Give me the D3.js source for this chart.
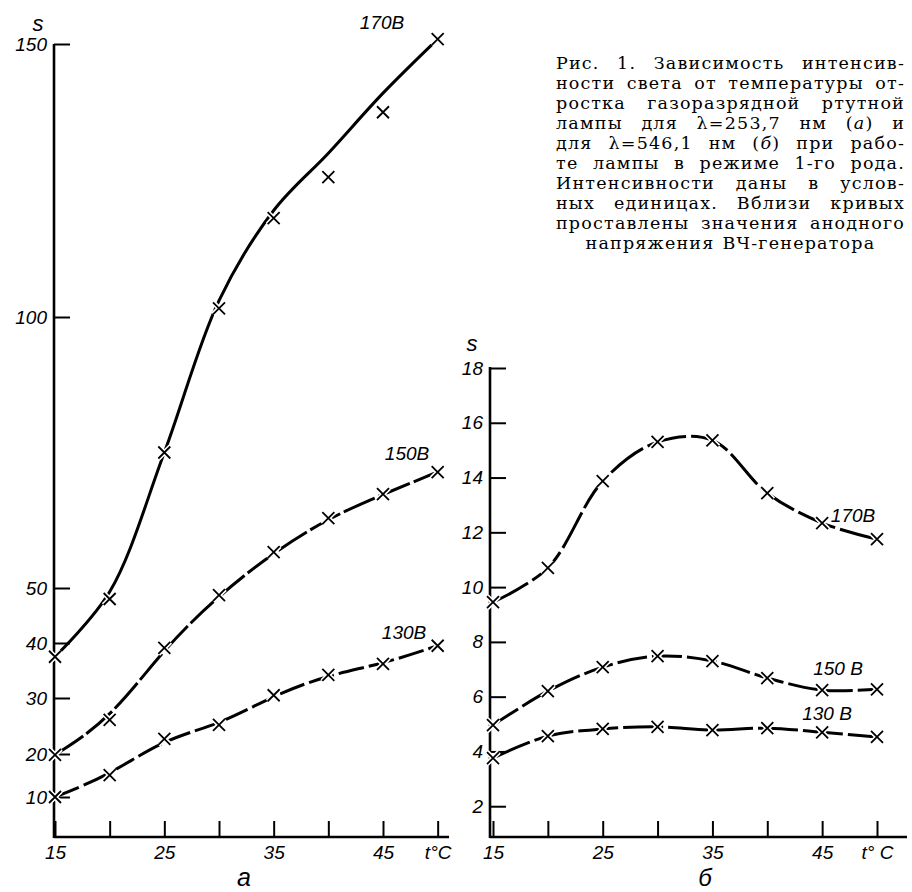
<!DOCTYPE html>
<html><head><meta charset="utf-8">
<script src="https://cdn.jsdelivr.net/npm/d3@7"></script>
<style>body{margin:0;background:#fff} svg{display:block}</style>
</head><body>
<svg id="c" width="912" height="892"></svg>
<script>
// ---- data ----
const temps = [15,20,25,30,35,40,45,50];
const xTickLabels = ["15","","25","","35","","45","t°C"];
const xTickLabelsB = ["15","","25","","35","","45","t° C"];
const aYTicks = [10,20,30,40,50,100,150];
const bYTicks = [2,4,6,8,10,12,14,16,18];
// measured points (crosses)
const a170 = [37.5,48,75,101.6,118.1,125.6,137.5,150.9];
const a150 = [19.8,26.1,39.1,48.7,56.6,62.9,67.3,71.4];
const a130 = [10,15.1,22.7,25.2,30.5,34.2,36.2,39.5];
const b170 = [9.45,10.7,13.87,15.3,15.36,13.43,12.34,11.75];
const b150 = [4.96,6.2,7.08,7.48,7.3,6.68,6.24,6.27];
const b130 = [3.76,4.56,4.82,4.9,4.78,4.85,4.7,4.53];
// drawn (fitted) curve for 170 В in panel a, read at the same temperatures
const a170Curve = [37.5,49.3,75,103,119.5,130,141,150.9];
const aLabels = ["170В","150В","130В"];
const bLabels = ["170В","150 В","130 В"];
const captionLines = [
  "Рис. 1. Зависимость интенсив-",
  "ности света от температуры от-",
  "ростка газоразрядной ртутной",
  "лампы для λ=253,7 нм (а) и",
  "для λ=546,1 нм (б) при рабо-",
  "те лампы в режиме 1-го рода.",
  "Интенсивности даны в услов-",
  "ных единицах. Вблизи кривых",
  "проставлены значения анодного",
  "напряжения ВЧ-генератора"
];

// ---- drawing ----
const svg = d3.select("#c");
const FONT = "Liberation Sans, Arial, sans-serif";

function styleAxis(g){
  g.select(".domain").remove();
  g.selectAll(".tick line").attr("stroke","#000").attr("stroke-width",2);
  g.selectAll(".tick text").attr("font-family",FONT).attr("font-style","italic")
    .attr("font-size",19).attr("fill","#000");
}

function panel(cfg){
  const {x,y,x0,x1,yTop,base,yTicks,points,curves,dashes,xLabels,curveTypes} = cfg;
  const g = svg.append("g");
  const gx = g.append("g").attr("transform",`translate(0,${base})`)
    .call(d3.axisBottom(x).tickValues(temps).tickFormat((d,i)=>xLabels[i])
      .tickSizeInner(-16).tickSizeOuter(0).tickPadding(9));
  styleAxis(gx);
  const gy = g.append("g").attr("transform",`translate(${x0},0)`)
    .call(d3.axisLeft(y).tickValues(yTicks).tickFormat(d3.format("d"))
      .tickSizeInner(-16).tickSizeOuter(0).tickPadding(7));
  styleAxis(gy);
  g.append("line").attr("x1",x0).attr("x2",x1).attr("y1",base).attr("y2",base)
    .attr("stroke","#000").attr("stroke-width",2.6);
  g.append("line").attr("x1",x0).attr("x2",x0).attr("y1",base+1).attr("y2",yTop)
    .attr("stroke","#000").attr("stroke-width",2.6);
  curves.forEach((s,k)=>{
    const line = d3.line().x((d,i)=>x(temps[i])).y(d=>y(d)).curve(curveTypes[k]);
    g.append("path").attr("d",line(s)).attr("fill","none").attr("stroke","#000")
      .attr("stroke-width",3).attr("stroke-dasharray",dashes[k]);
  });
  const cross = "M-6,-6L6,6M-6,6L6,-6";
  points.forEach(s=>{
    s.forEach((v,i)=>{
      const t = `translate(${x(temps[i])},${y(v)})`;
      g.append("path").attr("d",cross).attr("transform",t).attr("stroke","#fff").attr("stroke-width",5);
      g.append("path").attr("d",cross).attr("transform",t).attr("stroke","#000").attr("stroke-width",1.8);
    });
  });
  return g;
}

const cr = d3.curveCatmullRom.alpha(0.5);
// panel a
const xA = d3.scaleLinear().domain([15,45]).range([55,383]);
const yA = d3.scaleLinear().domain([0,10,20,30,40,50,100,150]).range([837,797,754,698,643,588,317,44]);
panel({x:xA,y:yA,x0:54,x1:449,yTop:44,base:837,yTicks:aYTicks,
  points:[a170,a150,a130],curves:[a170Curve,a150,a130],
  curveTypes:[cr,d3.curveBasis,d3.curveBasis],
  dashes:["none","34,4","26,5"],xLabels:xTickLabels});

// panel b
const xB = d3.scaleLinear().domain([15,50]).range([493,877]);
const yB = d3.scaleLinear().domain([0,18]).range([861,368]);
panel({x:xB,y:yB,x0:490,x1:907,yTop:367,base:837,yTicks:bYTicks,
  points:[b170,b150,b130],curves:[b170,b150,b130],curveTypes:[cr,cr,cr],
  dashes:["40,5","30,5","40,5"],xLabels:xTickLabelsB});

// text labels
function lab(txt,x,y,size,anchor){
  svg.append("text").attr("x",x).attr("y",y).attr("text-anchor",anchor||"middle")
    .attr("font-family",FONT).attr("font-style","italic").attr("font-size",size).attr("fill","#000").text(txt);
}
lab(aLabels[0],382,29,19); lab(aLabels[1],407,460,19); lab(aLabels[2],404,639,19);
lab(bLabels[0],853,522,19); lab(bLabels[1],838,675,19); lab(bLabels[2],827,720,19);
lab("s",38,31,22); lab("s",472,351,22);
lab("а",244,886,25); lab("б",705,886,24);

// caption, justified
const capG = svg.append("g").attr("font-family","DejaVu Serif, Liberation Serif, serif")
  .attr("font-size",17.5).attr("letter-spacing",1.2).attr("fill","#000");
const L = 556, R = 905;
captionLines.forEach((ln,i)=>{
  const yy = 69 + i*20;
  const words = ln.split(" ");
  const t = capG.append("text").attr("y",yy);
  const spans = words.map(w=>{
    const sp = t.append("tspan");
    const m = w.match(/^\((.)\)$/);
    if (m) {
      sp.append("tspan").text("(");
      sp.append("tspan").attr("font-style","italic").text(m[1]);
      sp.append("tspan").text(")");
    } else sp.text(w);
    return sp;
  });
  const widths = spans.map(s=>s.node().getComputedTextLength());
  const total = d3.sum(widths);
  const last = i===captionLines.length-1;
  let gap = last ? 8 : (R-L-total)/(words.length-1);
  let scale = 1;
  if (gap < 5) { gap = 5; scale = (R-L-gap*(words.length-1))/total; }
  let xx = last ? (L+R)/2 - (total+gap*(words.length-1))/2 : L;
  spans.forEach((s,j)=>{
    s.attr("x",xx);
    if (scale<1) s.attr("textLength",widths[j]*scale).attr("lengthAdjust","spacingAndGlyphs");
    xx += widths[j]*scale+gap;
  });
});
</script>
</body></html>
